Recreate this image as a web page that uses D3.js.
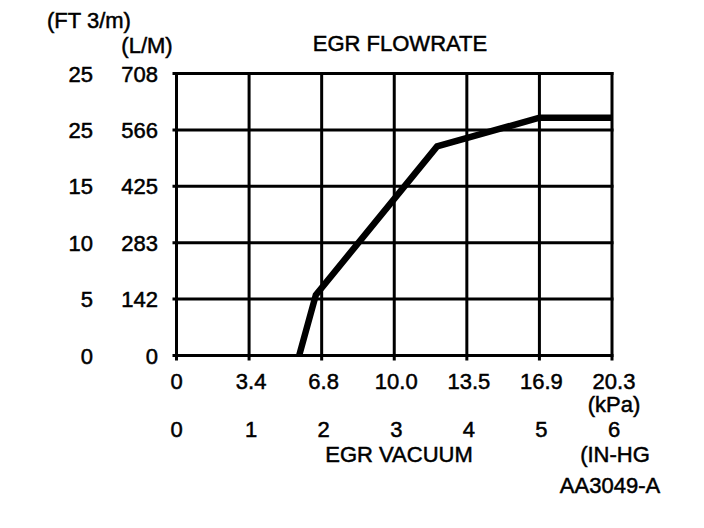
<!DOCTYPE html>
<html lang="en">
<head>
  <meta charset="UTF-8">
  <title>EGR Flowrate</title>
  <style>
    body {
      margin: 0;
      background: white;
      overflow: hidden;
    }

    text {
      font-family: "Liberation Sans", Arial, sans-serif;
      font-size: 22px;
      fill: #000;
      stroke: #000;
      stroke-width: 0.5px;
    }

    .grid line {
      stroke: #000;
      stroke-width: 3px;
    }

    .curve {
      fill: none;
      stroke: #000;
      stroke-width: 6.5px;
      stroke-linejoin: miter;
    }
  </style>
</head>
<body>
  <script src="https://d3js.org/d3.v7.min.js"></script>
  <script>
    const width = 704;
    const height = 528;

    // axis labels
    const inhgTicks = [0, 1, 2, 3, 4, 5, 6];
    const kpaLabels = ["0", "3.4", "6.8", "10.0", "13.5", "16.9", "20.3"];
    const lpmTicks = [0, 142, 283, 425, 566, 708];
    const ftLabels = ["0", "5", "10", "15", "25", "25"];

    // curve (vacuum in IN-HG, flow in L/M)
    const curveVacuum = [1.69, 1.92, 3.59, 5.0, 6.0];
    const curveFlow = [0, 152, 525, 597, 597];

    const svg = d3.select("body").append("svg")
      .attr("width", width)
      .attr("height", height);

    const x = d3.scaleLinear()
      .domain([0, 6])
      .range([176.5, 612]);

    const y = d3.scaleLinear()
      .domain([0, 708])
      .range([355.5, 73.5]);

    const grid = svg.append("g").attr("class", "grid");

    grid.selectAll(".v")
      .data(inhgTicks)
      .enter()
      .append("line")
      .attr("class", "v")
      .attr("x1", d => x(d))
      .attr("x2", d => x(d))
      .attr("y1", y(708) - 1.5)
      .attr("y2", y(0) + 5);

    grid.selectAll(".h")
      .data(lpmTicks)
      .enter()
      .append("line")
      .attr("class", "h")
      .attr("x1", x(0) - 4)
      .attr("x2", x(6) + 1.5)
      .attr("y1", d => y(d))
      .attr("y2", d => y(d));

    const line = d3.line()
      .x(d => x(d[0]))
      .y(d => y(d[1]));

    svg.append("path")
      .datum(curveVacuum.map((v, i) => [v, curveFlow[i]]))
      .attr("class", "curve")
      .attr("d", line);

    // y labels: L/M column and FT3/m column
    svg.selectAll(".lpm")
      .data(lpmTicks)
      .enter()
      .append("text")
      .attr("class", "lpm")
      .attr("x", 158)
      .attr("y", d => y(d) + 8)
      .attr("text-anchor", "end")
      .text(d => d);

    svg.selectAll(".ft")
      .data(lpmTicks)
      .enter()
      .append("text")
      .attr("class", "ft")
      .attr("x", 93)
      .attr("y", d => y(d) + 8)
      .attr("text-anchor", "end")
      .text((d, i) => ftLabels[i]);

    // x labels
    svg.selectAll(".kpa")
      .data(inhgTicks)
      .enter()
      .append("text")
      .attr("class", "kpa")
      .attr("x", d => x(d) + (d === 0 ? 0 : 2))
      .attr("y", 389)
      .attr("text-anchor", "middle")
      .text((d, i) => kpaLabels[i]);

    svg.selectAll(".inhg")
      .data(inhgTicks)
      .enter()
      .append("text")
      .attr("class", "inhg")
      .attr("x", d => x(d) + (d === 0 ? 0 : 2))
      .attr("y", 437)
      .attr("text-anchor", "middle")
      .text(d => d);

    const labels = [
      { t: "(FT 3/m)", x: 89, y: 28 },
      { t: "(L/M)", x: 147, y: 53 },
      { t: "EGR FLOWRATE", x: 400, y: 51 },
      { t: "(kPa)", x: 614, y: 412 },
      { t: "EGR VACUUM", x: 399, y: 462 },
      { t: "(IN-HG", x: 615, y: 462 },
      { t: "AA3049-A", x: 610, y: 493 }
    ];

    svg.selectAll(".lbl")
      .data(labels)
      .enter()
      .append("text")
      .attr("class", "lbl")
      .attr("x", d => d.x)
      .attr("y", d => d.y)
      .attr("text-anchor", "middle")
      .text(d => d.t);
  </script>
</body>
</html>
